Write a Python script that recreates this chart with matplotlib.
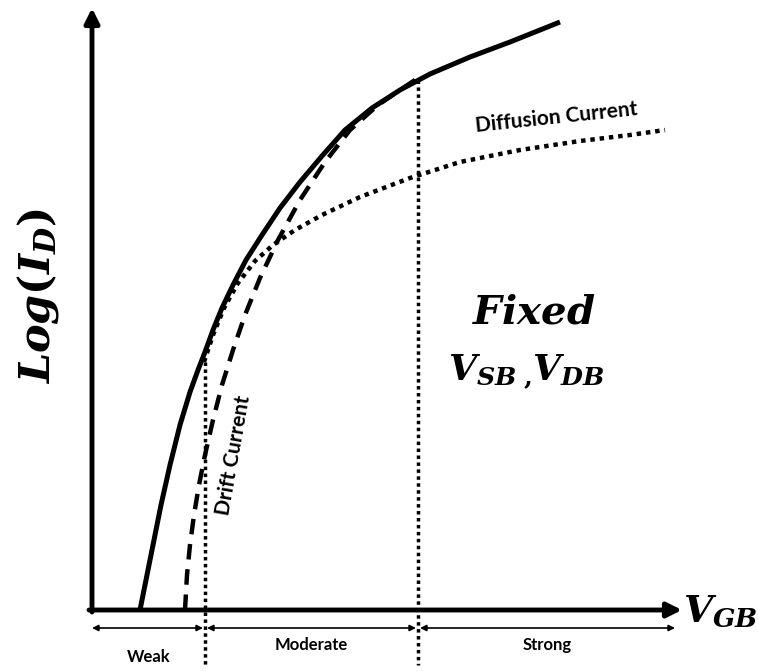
import matplotlib
matplotlib.use("Agg")
import matplotlib.pyplot as plt

# schematic curves, pixel coords (x right, y down)
total_x = [140, 146, 153, 161, 170, 180, 190, 198, 205, 213, 222, 233, 246, 262, 280, 300, 322, 345, 372, 400, 430, 470, 510, 560]
total_y = [610, 580, 545, 505, 465, 425, 392, 370, 352, 330, 308, 285, 260, 235, 208, 182, 156, 130, 108, 90, 74, 57, 42, 22]

drift_x = [185, 187, 190, 194, 199, 205, 213, 222, 233, 245, 260, 278, 300, 325, 350, 378, 400, 418]
drift_y = [610, 575, 545, 515, 485, 455, 420, 385, 350, 315, 278, 240, 200, 162, 130, 105, 90, 78]

diff_x = [204, 213, 224, 238, 255, 273, 295, 322, 360, 410, 460, 520, 580, 630, 665]
diff_y = [362, 335, 308, 283, 261, 245, 230, 215, 197, 178, 162, 150, 141, 135, 130]

# region boundaries
bounds = [92, 205, 418, 677]
region_names = ["Weak", "Moderate", "Strong"]
region_label_y = [657, 645, 645]

plt.rcParams['mathtext.fontset'] = 'custom'
plt.rcParams['mathtext.it'] = 'DejaVu Serif:italic:bold'
plt.rcParams['mathtext.rm'] = 'DejaVu Serif:bold'
plt.rcParams['mathtext.bf'] = 'DejaVu Serif:bold'

fig = plt.figure(figsize=(7.58, 6.71), dpi=100)
ax = fig.add_axes([0, 0, 1, 1])
ax.set_xlim(0, 758)
ax.set_ylim(671, 0)
ax.axis('off')

# axes with arrows
ax.annotate('', xy=(92, 8), xytext=(92, 612),
            arrowprops=dict(arrowstyle='-|>', lw=3.5, color='black', mutation_scale=22, shrinkA=0, shrinkB=0))
ax.annotate('', xy=(682, 610), xytext=(89, 610),
            arrowprops=dict(arrowstyle='-|>', lw=3.5, color='black', mutation_scale=22, shrinkA=0, shrinkB=0))

# curves
ax.plot(total_x, total_y, color='black', lw=3.6, solid_capstyle='butt', solid_joinstyle='round')
ax.plot(drift_x, drift_y, color='black', lw=3.2, dashes=(3.5, 2.2), dash_capstyle='butt')
ax.plot(diff_x, diff_y, color='black', lw=3.2, linestyle=(0, (1, 1.1)))

# boundaries
for bx, top in zip(bounds[1:3], [362, 80]):
    ax.plot([bx, bx], [top, 665], color='black', lw=2.5, linestyle=(0, (1, 1)))

# region arrows
for i, name in enumerate(region_names):
    x0 = bounds[i] + (2 if i > 0 else 0)
    x1 = bounds[i + 1] - 2
    ax.annotate('', xy=(x1, 628), xytext=(x0, 628),
                arrowprops=dict(arrowstyle='<|-|>', lw=1.2, color='black', mutation_scale=9, shrinkA=0, shrinkB=0))
    ax.text((bounds[i] + bounds[i + 1]) / 2, region_label_y[i], name, ha='center', va='center',
            fontsize=12, fontweight='bold', family='Lato')

# labels
ax.text(38, 296, r'$Log(I_D)$', rotation=90, ha='center', va='center', fontsize=31)
ax.text(720, 612, r'$V_{GB}$', ha='center', va='center', fontsize=27)
ax.text(534, 312, r'$Fixed$', ha='center', va='center', fontsize=29)
ax.text(527, 372, r'$V_{SB}\,_{,}V_{DB}$', ha='center', va='center', fontsize=26)
ax.text(556, 118, 'Diffusion Current', rotation=6, ha='center', va='center',
        fontsize=15, fontweight='bold', family='Lato')
ax.text(234, 455, 'Drift Current', rotation=80, ha='center', va='center',
        fontsize=15, fontweight='bold', family='Lato')

fig.savefig('out.png', dpi=100, facecolor='white')
